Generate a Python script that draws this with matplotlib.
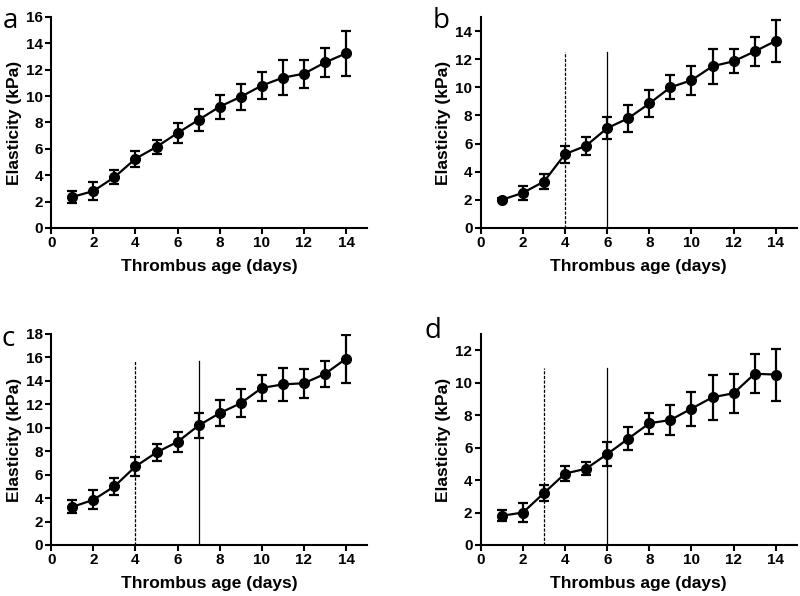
import matplotlib
matplotlib.use('Agg')
import matplotlib.pyplot as plt
import numpy as np

days = np.arange(1, 15)

# panel a
mean_a = [2.35, 2.8, 3.85, 5.25, 6.15, 7.2, 8.2, 9.2, 9.95, 10.8, 11.4, 11.7, 12.55, 13.25]
err_a = [0.45, 0.65, 0.55, 0.6, 0.55, 0.75, 0.85, 0.9, 1.0, 1.05, 1.35, 1.05, 1.1, 1.7]
# panel b
mean_b = [2.0, 2.5, 3.3, 5.25, 5.85, 7.1, 7.8, 8.85, 10.0, 10.5, 11.5, 11.85, 12.55, 13.3]
err_b = [0.1, 0.5, 0.55, 0.6, 0.65, 0.8, 0.95, 0.95, 0.85, 1.05, 1.25, 0.85, 1.05, 1.5]
# panel c
mean_c = [3.25, 3.85, 5.0, 6.7, 7.9, 8.8, 10.2, 11.25, 12.1, 13.4, 13.7, 13.8, 14.6, 15.9]
err_c = [0.55, 0.8, 0.7, 0.8, 0.7, 0.85, 1.1, 1.1, 1.2, 1.1, 1.4, 1.25, 1.1, 2.05]
# panel d
mean_d = [1.8, 2.0, 3.2, 4.4, 4.7, 5.6, 6.55, 7.5, 7.7, 8.4, 9.1, 9.35, 10.55, 10.5]
err_d = [0.35, 0.6, 0.5, 0.45, 0.4, 0.75, 0.7, 0.65, 0.9, 1.05, 1.4, 1.2, 1.2, 1.6]

panels = [
    # letter, mean, err, ymax, dashed x, solid x, vline top
    ('a', mean_a, err_a, 16, None, None, None),
    ('b', mean_b, err_b, 15, 4, 6, 12.5),
    ('c', mean_c, err_c, 18, 4, 7, 15.7),
    ('d', mean_d, err_d, 13, 3, 6, 10.9),
]

axes_rect = [
    [0.064, 0.6175, 0.395, 0.354],
    [0.601, 0.6175, 0.395, 0.354],
    [0.064, 0.0856, 0.395, 0.354],
    [0.601, 0.0856, 0.395, 0.354],
]
letter_pos = [(0.004, 0.965), (0.541, 0.965), (0.002, 0.432), (0.531, 0.445)]

plt.rcParams['font.family'] = ['Liberation Sans', 'DejaVu Sans']

fig = plt.figure(figsize=(8, 5.96), dpi=100)

for (letter, mean, err, ymax, xdash, xsolid, vtop), rect, lp in zip(panels, axes_rect, letter_pos):
    ax = fig.add_axes(rect)
    if xdash is not None:
        ax.plot([xdash, xdash], [0, vtop], color='black', lw=0.9, ls=(0, (2.5, 1.2)))
        ax.plot([xsolid, xsolid], [0, vtop], color='black', lw=0.9)
    ax.errorbar(days, mean, yerr=err, color='black', marker='o', markersize=7,
                lw=1.6, elinewidth=1.6, capsize=3.5, capthick=1.6, zorder=3)
    ax.set_xlim(0, 15)
    ax.set_ylim(0, ymax)
    ax.set_xticks(np.arange(0, 15, 2))
    ax.set_yticks(np.arange(0, ymax + 0.1, 2))
    for s in ['top', 'right']:
        ax.spines[s].set_visible(False)
    for s in ['left', 'bottom']:
        ax.spines[s].set_linewidth(1.5)
    ax.tick_params(direction='out', length=4, width=1.5, labelsize=11, pad=2)
    for lab in ax.get_xticklabels() + ax.get_yticklabels():
        lab.set_fontweight('bold')
    ax.set_xlabel('Thrombus age (days)', fontsize=12.5, fontweight='bold', labelpad=6)
    ax.set_ylabel('Elasticity (kPa)', fontsize=12.5, fontweight='bold', labelpad=3)
    fig.text(lp[0], lp[1], letter, fontsize=20, family='Open Sans', va='center', ha='left')

fig.savefig('out.png', dpi=100)
